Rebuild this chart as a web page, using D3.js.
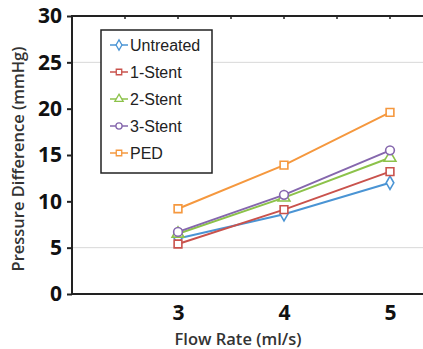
<!DOCTYPE html>
<html>
<head>
<meta charset="utf-8">
<script src="https://cdn.jsdelivr.net/npm/d3@7"></script>
<style>
  body { margin: 0; background: #fff; }
  svg { display: block; }
</style>
</head>
<body>
<div id="chart"></div>
<script>
const flowRates = [3, 4, 5];
const seriesNames = ['Untreated', '1-Stent', '2-Stent', '3-Stent', 'PED'];
const untreated = [6.0, 8.6, 12.0];
const oneStent = [5.4, 9.1, 13.2];
const twoStent = [6.5, 10.4, 14.7];
const threeStent = [6.7, 10.7, 15.5];
const ped = [9.2, 13.9, 19.6];
const yTicks = [0, 5, 10, 15, 20, 25, 30];
const topTicks = [2.5, 3, 3.5, 4, 4.5, 5];
const gridValues = [5, 25];

const seriesValues = [untreated, oneStent, twoStent, threeStent, ped];
const colors = ['#4a94d4', '#c9524c', '#8cc24a', '#8567ad', '#f5983e'];
const symbols = [d3.symbolDiamond, d3.symbolSquare, d3.symbolTriangle, d3.symbolCircle, d3.symbolSquare];

const width = 423, height = 349;
const plotLeft = 72, plotTop = 16, plotBottom = 294;

const svg = d3.select('#chart').append('svg')
  .attr('width', width)
  .attr('height', height);

const x = d3.scaleLinear().domain([2, 5.5]).range([plotLeft, plotLeft + 3.5 * 106]);
const y = d3.scaleLinear().domain([0, 30]).range([plotBottom, plotTop]);

// light gridlines
svg.selectAll('.grid')
  .data(gridValues)
  .enter()
  .append('line')
  .attr('x1', plotLeft).attr('x2', width)
  .attr('y1', d => y(d)).attr('y2', d => y(d))
  .attr('stroke', '#d8d8d8')
  .attr('stroke-width', 1);

// top ticks
svg.selectAll('.topTick')
  .data(topTicks)
  .enter()
  .append('line')
  .attr('x1', d => x(d)).attr('x2', d => x(d))
  .attr('y1', plotTop).attr('y2', plotTop + 3)
  .attr('stroke', '#222')
  .attr('stroke-width', 1.5);

// frame lines
svg.append('line').attr('x1', plotLeft).attr('x2', width).attr('y1', plotTop).attr('y2', plotTop)
  .attr('stroke', '#222').attr('stroke-width', 2);
svg.append('line').attr('x1', plotLeft).attr('x2', width).attr('y1', plotBottom).attr('y2', plotBottom)
  .attr('stroke', '#222').attr('stroke-width', 2);
svg.append('line').attr('x1', plotLeft).attr('x2', plotLeft).attr('y1', plotTop - 1).attr('y2', plotBottom + 1)
  .attr('stroke', '#222').attr('stroke-width', 2);

// y axis
const yAxis = svg.append('g')
  .attr('transform', `translate(${plotLeft},0)`)
  .call(d3.axisLeft(y).tickValues(yTicks).tickSize(5).tickPadding(5));
yAxis.select('.domain').remove();
yAxis.selectAll('line').attr('stroke', '#222').attr('stroke-width', 2);
yAxis.selectAll('text')
  .attr('font-family', 'Open Sans, DejaVu Sans, sans-serif')
  .attr('font-weight', 'bold')
  .attr('font-size', 21)
  .attr('fill', '#111');

// x axis
const xAxis = svg.append('g')
  .attr('transform', `translate(0,${plotBottom})`)
  .call(d3.axisBottom(x).tickValues(flowRates).tickSize(0).tickPadding(11).tickFormat(d3.format('d')));
xAxis.select('.domain').remove();
xAxis.selectAll('text')
  .attr('font-family', 'Open Sans, DejaVu Sans, sans-serif')
  .attr('font-weight', 'bold')
  .attr('font-size', 21)
  .attr('fill', '#111');

// axis titles
svg.append('text')
  .attr('x', 238).attr('y', 345)
  .attr('text-anchor', 'middle')
  .attr('font-family', 'Open Sans, DejaVu Sans, sans-serif')
  .attr('font-weight', 600)
  .attr('font-size', 16.5)
  .attr('fill', '#333')
  .text('Flow Rate (ml/s)');

svg.append('text')
  .attr('transform', 'translate(24,159) rotate(-90)')
  .attr('text-anchor', 'middle')
  .attr('font-family', 'Open Sans, DejaVu Sans, sans-serif')
  .attr('font-weight', 600)
  .attr('font-size', 16.5)
  .attr('fill', '#333')
  .text('Pressure Difference (mmHg)');

// series
const line = d3.line().x((d, i) => x(flowRates[i])).y(d => y(d));

seriesValues.forEach((vals, s) => {
  svg.append('path')
    .datum(vals)
    .attr('d', line)
    .attr('fill', 'none')
    .attr('stroke', colors[s])
    .attr('stroke-width', 2);
  svg.selectAll('.pt' + s)
    .data(vals)
    .enter()
    .append('path')
    .attr('transform', (d, i) => `translate(${x(flowRates[i])},${y(d)})`)
    .attr('d', d3.symbol().type(symbols[s]).size(s === 0 ? 50 : 60))
    .attr('fill', '#fff')
    .attr('stroke', colors[s])
    .attr('stroke-width', 1.6);
});

// legend
const legend = svg.append('g');
legend.append('rect')
  .attr('x', 101).attr('y', 30)
  .attr('width', 111).attr('height', 143)
  .attr('fill', '#fff')
  .attr('stroke', '#222')
  .attr('stroke-width', 1.5);

seriesNames.forEach((name, s) => {
  const ly = 45 + s * 27;
  legend.append('line')
    .attr('x1', 110).attr('x2', 128)
    .attr('y1', ly).attr('y2', ly)
    .attr('stroke', colors[s]).attr('stroke-width', 1.5);
  legend.append('path')
    .attr('transform', `translate(119,${ly})`)
    .attr('d', d3.symbol().type(symbols[s]).size(30))
    .attr('fill', '#fff')
    .attr('stroke', colors[s])
    .attr('stroke-width', 1.3);
  legend.append('text')
    .attr('x', 130).attr('y', ly + 6)
    .attr('font-family', 'Liberation Sans, Arial, sans-serif')
    .attr('font-size', 16)
    .attr('fill', '#222')
    .text(name);
});
</script>
</body>
</html>
